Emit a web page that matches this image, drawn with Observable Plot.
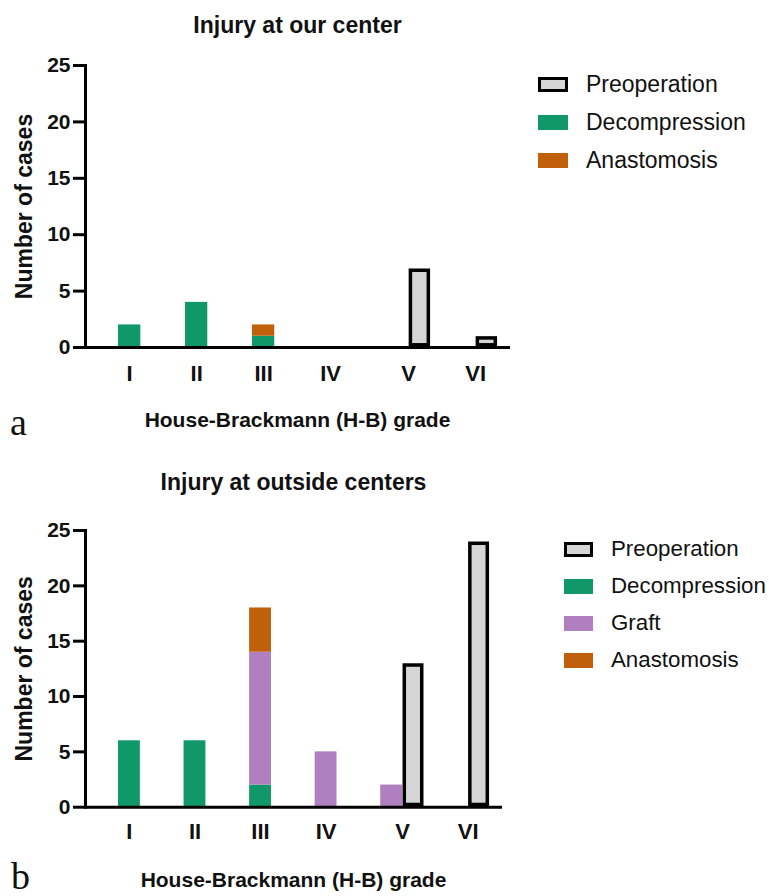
<!DOCTYPE html>
<html>
<head>
<meta charset="utf-8">
<script src="https://cdn.jsdelivr.net/npm/d3@7"></script>
<script src="https://cdn.jsdelivr.net/npm/@observablehq/plot@0.6"></script>
<style>
  html, body { margin: 0; padding: 0; background: #fff; }
  #root { position: relative; width: 769px; height: 896px; overflow: hidden; font-family: "Liberation Sans", Arial, sans-serif; color: #111; }
  .abs { position: absolute; white-space: nowrap; line-height: normal; }
  .title { font-weight: bold; text-align: center; }
  .panel-tag { font-family: "Liberation Serif", "Times New Roman", serif; line-height: 0.7; }
  .leg-row { position: absolute; display: flex; align-items: center; }
  .leg-sw { box-sizing: border-box; flex: none; }
</style>
</head>
<body>
<div id="root"></div>
<script>
// ---------- data ----------
const grades = ["I", "II", "III", "IV", "V", "VI"];
const yTicks = [0, 5, 10, 15, 20, 25];

// Panel a: injury at our center
const titleA = "Injury at our center";
const preopA = [0, 0, 0, 0, 7, 1];
const decompressionA = [2, 4, 1, 0, 0, 0];
const anastomosisA = [0, 0, 1, 0, 0, 0];

// Panel b: injury at outside centers
const titleB = "Injury at outside centers";
const preopB = [0, 0, 0, 0, 13, 24];
const decompressionB = [6, 6, 2, 0, 0, 0];
const graftB = [0, 0, 12, 5, 2, 0];
const anastomosisB = [0, 0, 4, 0, 0, 0];

const xTitle = "House-Brackmann (H-B) grade";
const yTitle = "Number of cases";
const preLabel = "Preoperation";
const methodColors = { "Decompression": "#109868", "Graft": "#b07fc0", "Anastomosis": "#c0600b" };
const preFill = "#d5d5d5";

// ---------- helpers ----------
const root = document.getElementById("root");
function addDiv(cls, text, css) {
  const d = document.createElement("div");
  d.className = "abs " + cls;
  d.textContent = text;
  Object.assign(d.style, css);
  root.appendChild(d);
  return d;
}

const slots = grades.flatMap((g, i) => i < grades.length - 1 ? [g + "|post", g + "|pre", g + "|gap"] : [g + "|post", g + "|pre"]);

function panel({top, width, height, marginTop, marginBottom, preop, series, labelDy}) {
  const marginLeft = 85, marginRight = 20, insetLeft = 33, insetRight = 12.5;
  const methods = series.map(s => s.name);
  const postRows = [];
  series.forEach(s => s.values.forEach((v, i) => postRows.push({slot: grades[i] + "|post", method: s.name, value: v})));
  const preRows = preop.map((v, i) => ({slot: grades[i] + "|pre", value: v}));
  const step = (width - marginLeft - marginRight - insetLeft - insetRight) / slots.length;
  const atGroup = grades.filter((g, i) => preop[i] > 0);
  const atPost = grades.filter((g, i) => !(preop[i] > 0));
  const chart = Plot.plot({
    width, height, marginLeft, marginRight, marginTop, marginBottom,
    style: {fontFamily: "'Liberation Sans', Arial, sans-serif", color: "#111", background: "transparent", overflow: "visible"},
    x: {type: "band", domain: slots, paddingInner: 0, paddingOuter: 0, round: false, insetLeft, insetRight, axis: null},
    y: {domain: [0, 25], axis: null},
    color: {domain: methods, range: methods.map(m => methodColors[m])},
    marks: [
      Plot.barY(postRows, {x: "slot", y: "value", fill: "method"}),
      Plot.barY(preRows.filter(d => d.value > 0), {x: "slot", y: "value", fill: preFill, stroke: "#000", strokeWidth: 3.5, inset: 2.2}),
      Plot.axisY({ticks: yTicks, tickSize: 12, tickPadding: 3, strokeWidth: 3, fontSize: 21, fontWeight: "bold", label: null, stroke: "#000", fill: "#111"}),
      Plot.frame({anchor: "left", strokeWidth: 3, stroke: "#000"}),
      Plot.ruleY([0], {strokeWidth: 3, stroke: "#000"}),
      Plot.text(atPost, {x: d => d + "|post", frameAnchor: "bottom", dy: labelDy, fontSize: 22, fontWeight: "bold", lineAnchor: "middle", fill: "#111"}),
      Plot.text(atGroup, {x: d => d + "|post", frameAnchor: "bottom", dx: step / 2, dy: labelDy, fontSize: 22, fontWeight: "bold", lineAnchor: "middle", fill: "#111"}),
      Plot.text([yTitle], {frameAnchor: "left", rotate: -90, dx: -61, fontSize: 23, fontWeight: "bold", textAnchor: "middle", lineAnchor: "middle", fill: "#111"})
    ]
  });
  chart.style.position = "absolute";
  chart.style.left = "0px";
  chart.style.top = top + "px";
  root.appendChild(chart);
}

function legend({left, textLeft, swW, swH, centers, series, fontSize}) {
  const items = [{name: preLabel, pre: true}].concat(series.map(s => ({name: s.name})));
  items.forEach((it, i) => {
    const row = document.createElement("div");
    row.className = "leg-row";
    row.style.left = left + "px";
    row.style.top = (centers[i] - 15) + "px";
    row.style.height = "30px";
    const sw = document.createElement("div");
    sw.className = "leg-sw";
    sw.style.width = swW + "px";
    sw.style.height = swH + "px";
    if (it.pre) { sw.style.background = preFill; sw.style.border = "3.5px solid #000"; }
    else sw.style.background = methodColors[it.name];
    const tx = document.createElement("div");
    tx.style.fontSize = fontSize + "px";
    tx.style.whiteSpace = "nowrap";
    tx.style.marginLeft = (textLeft - left - swW) + "px";
    tx.textContent = it.name;
    row.appendChild(sw); row.appendChild(tx);
    root.appendChild(row);
  });
}

// ---------- panel a ----------
const seriesA = [
  {name: "Decompression", values: decompressionA},
  {name: "Anastomosis", values: anastomosisA}
];
addDiv("title", titleA, {left: "85px", width: "425px", top: "12px", fontSize: "23px"});
panel({top: 40, width: 530, height: 350, marginTop: 25, marginBottom: 43, preop: preopA, series: seriesA, labelDy: 26});
addDiv("title", xTitle, {left: "85px", width: "425px", top: "408px", fontSize: "21px"});
addDiv("panel-tag", "a", {left: "10px", top: "409px", fontSize: "38px"});
legend({left: 538, textLeft: 586, swW: 30, swH: 15, centers: [84, 122, 160], series: seriesA, fontSize: 23});

// ---------- panel b ----------
const seriesB = [
  {name: "Decompression", values: decompressionB},
  {name: "Graft", values: graftB},
  {name: "Anastomosis", values: anastomosisB}
];
addDiv("title", titleB, {left: "85px", width: "417px", top: "469px", fontSize: "23px"});
panel({top: 500, width: 522, height: 350, marginTop: 30, marginBottom: 43.3, preop: preopB, series: seriesB, labelDy: 25});
addDiv("title", xTitle, {left: "85px", width: "417px", top: "868px", fontSize: "21px"});
addDiv("panel-tag", "b", {left: "11px", top: "863px", fontSize: "38px"});
legend({left: 564, textLeft: 611, swW: 29, swH: 15, centers: [549, 586, 623, 660], series: seriesB, fontSize: 22.3});
</script>
</body>
</html>
